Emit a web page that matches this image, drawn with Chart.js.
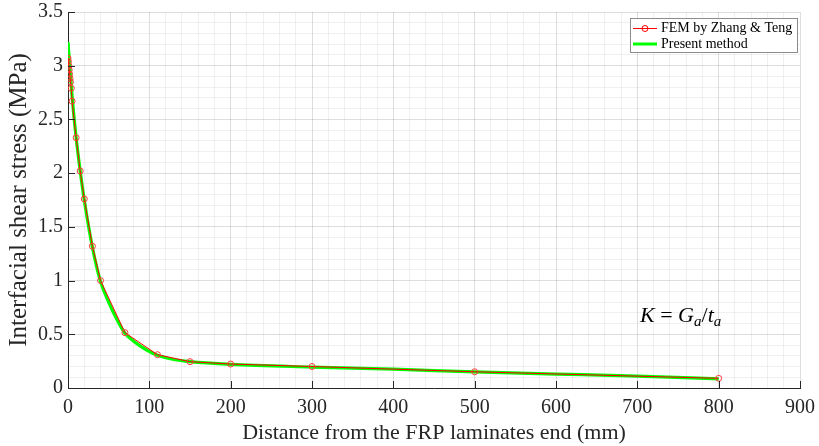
<!DOCTYPE html>
<html>
<head>
<meta charset="utf-8">
<script src="https://cdn.jsdelivr.net/npm/chart.js@4.4.1/dist/chart.umd.min.js"></script>
<style>
  html, body { margin: 0; padding: 0; background: #fff; }
  #wrap { position: relative; width: 819px; height: 446px; }
  #note {
    position: absolute; left: 640px; top: 304px;
    font-family: "Liberation Serif", serif; font-size: 22px; color: #000;
    white-space: nowrap; line-height: 1;
  }
  #note sub { font-size: 15px; vertical-align: -4px; }
</style>
</head>
<body>
<div id="wrap">
  <canvas id="chart" width="819" height="446"></canvas>
  <div id="note"><i>K</i> = <i>G</i><sub><i>a</i></sub>/<i>t</i><sub><i>a</i></sub></div>
</div>
<script>
// FEM-результаты (Zhang & Teng)
const femX = [0, 0.5, 1, 1.5, 2, 2.5, 3, 4, 5, 10, 15, 20, 30, 40, 70, 110, 150, 200, 300, 500, 800];
const femY = [3.07, 3.04, 3.0, 2.96, 2.92, 2.88, 2.85, 2.79, 2.67, 2.33, 2.02, 1.76, 1.32, 1.0, 0.515, 0.31, 0.245, 0.223, 0.2, 0.151, 0.09];

// Предлагаемый метод
const presentX = [0, 5, 10, 15, 20, 30, 40, 50, 60, 70, 80, 90, 100, 110, 130, 150, 200, 300, 400, 500, 600, 700, 800];
const presentY = [3.22, 2.72, 2.33, 2.02, 1.75, 1.31, 0.99, 0.8, 0.64, 0.51, 0.44, 0.385, 0.34, 0.305, 0.265, 0.245, 0.22, 0.195, 0.175, 0.15, 0.13, 0.11, 0.085];

const xMajor = [0, 100, 200, 300, 400, 500, 600, 700, 800, 900];
const yMajor = [0, 0.5, 1, 1.5, 2, 2.5, 3, 3.5];

const seriesNames = ['FEM by Zhang & Teng', 'Present method'];

const FONT = '"Liberation Serif", "Times New Roman", serif';
const TEXT = '#262626';
const GRID_MAJOR = 'rgba(0,0,0,0.13)';
const GRID_MINOR = 'rgba(0,0,0,0.06)';

const isMajor = (v, list) => list.some(m => Math.abs(m - v) < 1e-6);

// Засечки внутрь осей и легенда в рамке
const matlabLook = {
    id: 'matlabLook',
    afterDraw(chart) {
        const ctx = chart.ctx;
        const xs = chart.scales.x, ys = chart.scales.y;
        const area = chart.chartArea;
        ctx.save();
        ctx.strokeStyle = TEXT;
        ctx.lineWidth = 1;
        ctx.beginPath();
        xMajor.forEach(v => {
            const px = Math.round(xs.getPixelForValue(v)) + 0.5;
            ctx.moveTo(px, area.bottom);
            ctx.lineTo(px, area.bottom - 7);
        });
        yMajor.forEach(v => {
            const py = Math.round(ys.getPixelForValue(v)) + 0.5;
            ctx.moveTo(area.left, py);
            ctx.lineTo(area.left + 7, py);
        });
        ctx.stroke();

        // легенда
        const lx = 630.5, ly = 18.5, lw = 167, lh = 34;
        ctx.fillStyle = '#fff';
        ctx.fillRect(lx, ly, lw, lh);
        ctx.strokeStyle = '#8c8c8c';
        ctx.strokeRect(lx, ly, lw, lh);

        const y1 = 28.5, y2 = 44;
        ctx.strokeStyle = '#ff0000';
        ctx.lineWidth = 1;
        ctx.beginPath();
        ctx.moveTo(633, y1); ctx.lineTo(657, y1);
        ctx.stroke();
        ctx.beginPath();
        ctx.arc(645, y1, 3, 0, Math.PI * 2);
        ctx.stroke();

        ctx.strokeStyle = '#00ff00';
        ctx.lineWidth = 3;
        ctx.beginPath();
        ctx.moveTo(633, y2); ctx.lineTo(657, y2);
        ctx.stroke();

        ctx.fillStyle = '#000';
        ctx.font = '14px ' + FONT;
        ctx.textBaseline = 'middle';
        ctx.fillText(seriesNames[0], 661, y1);
        ctx.fillText(seriesNames[1], 661, y2);
        ctx.restore();
    }
};

const toPoints = (xs, ys) => xs.map((x, i) => ({ x: x, y: ys[i] }));

new Chart(document.getElementById('chart'), {
    type: 'line',
    data: {
        datasets: [{
            label: seriesNames[0],
            data: toPoints(femX, femY),
            borderColor: '#ff0000',
            borderWidth: 1,
            pointRadius: 3,
            pointBorderWidth: 1,
            pointBorderColor: '#ff3a3a',
            pointBackgroundColor: 'rgba(0,0,0,0)',
            tension: 0
        }, {
            label: seriesNames[1],
            data: toPoints(presentX, presentY),
            borderColor: '#00ff00',
            borderWidth: 3.2,
            pointRadius: 0,
            cubicInterpolationMode: 'monotone'
        }]
    },
    options: {
        responsive: false,
        animation: false,
        layout: { padding: { left: 0, right: 19, top: 12, bottom: 0 } },
        plugins: {
            legend: { display: false },
            tooltip: { enabled: false }
        },
        scales: {
            x: {
                type: 'linear',
                min: 0,
                max: 900,
                afterFit: s => { s.height = 58; s.paddingLeft = 0; s.paddingRight = 0; },
                border: { display: true, color: TEXT, width: 1 },
                grid: {
                    drawTicks: false,
                    color: c => isMajor(c.tick.value, xMajor) ? GRID_MAJOR : GRID_MINOR
                },
                ticks: {
                    stepSize: 20,
                    autoSkip: false,
                    maxRotation: 0,
                    padding: 8,
                    color: TEXT,
                    font: { family: FONT, size: 20 },
                    callback: v => isMajor(v, xMajor) ? String(v) : ''
                },
                title: {
                    display: true,
                    text: 'Distance from the FRP laminates end (mm)',
                    color: TEXT,
                    font: { family: FONT, size: 22 },
                    padding: { top: 0, bottom: 0 }
                }
            },
            y: {
                type: 'linear',
                min: 0,
                max: 3.5,
                afterFit: s => { s.width = 68; s.paddingTop = 0; s.paddingBottom = 0; },
                border: { display: true, color: TEXT, width: 1 },
                grid: {
                    drawTicks: false,
                    color: c => isMajor(c.tick.value, yMajor) ? GRID_MAJOR : GRID_MINOR
                },
                ticks: {
                    stepSize: 0.1,
                    autoSkip: false,
                    padding: 5,
                    color: TEXT,
                    font: { family: FONT, size: 20 },
                    callback: v => isMajor(v, yMajor) ? String(Math.round(v * 10) / 10) : ''
                },
                title: {
                    display: true,
                    text: 'Interfacial shear stress (MPa)',
                    color: TEXT,
                    font: { family: FONT, size: 25 },
                    padding: { top: 4, bottom: 0 }
                }
            }
        }
    },
    plugins: [matlabLook]
});
</script>
</body>
</html>
